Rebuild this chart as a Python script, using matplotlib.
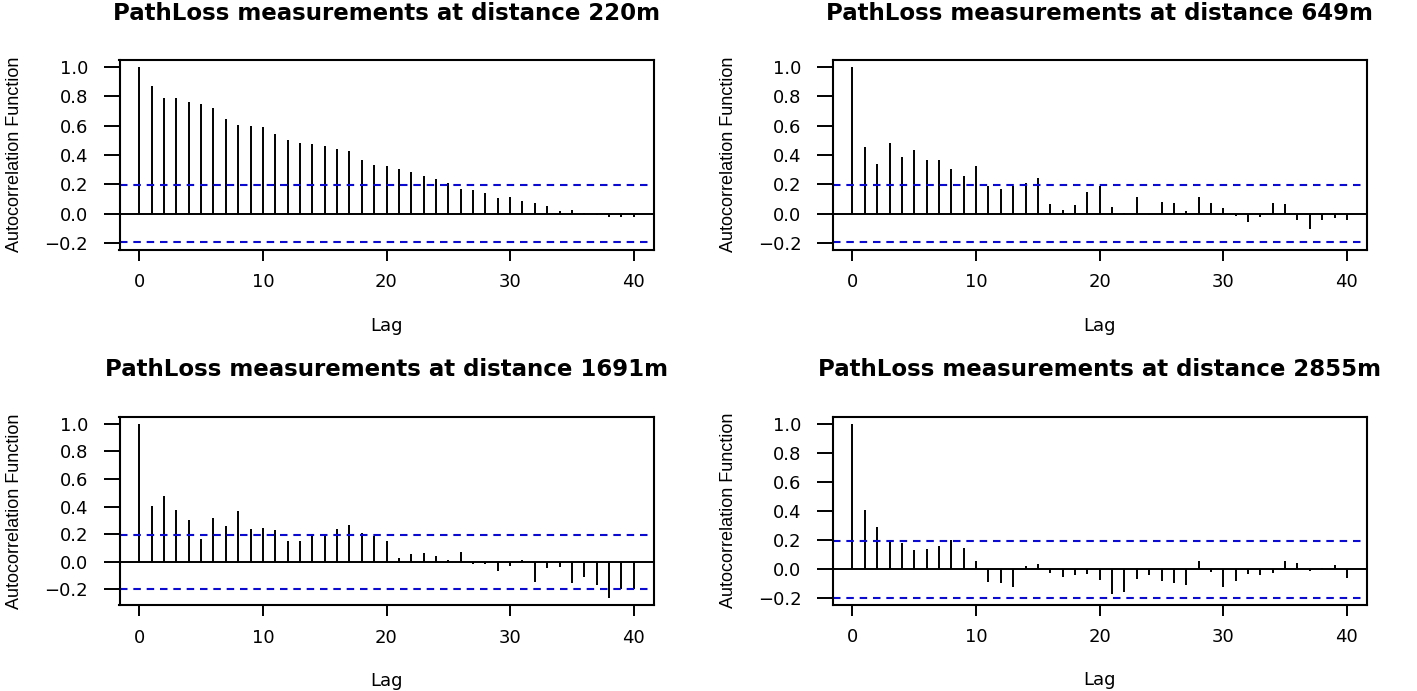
import numpy as np
import matplotlib.pyplot as plt
from matplotlib import font_manager

# autocorrelation values, lags 0..40
lags = np.arange(0, 41)

acf_220 = [1.0, 0.868, 0.788, 0.792, 0.760, 0.747, 0.719, 0.648, 0.605, 0.600,
           0.591, 0.546, 0.505, 0.479, 0.473, 0.459, 0.443, 0.427, 0.365, 0.329,
           0.322, 0.303, 0.285, 0.260, 0.240, 0.208, 0.171, 0.164, 0.144, 0.110,
           0.112, 0.087, 0.073, 0.055, 0.021, 0.027, 0.007, -0.007, -0.023, -0.023,
           -0.020]
acf_649 = [1.0, 0.454, 0.338, 0.479, 0.386, 0.432, 0.363, 0.363, 0.308, 0.260,
           0.322, 0.190, 0.169, 0.192, 0.212, 0.242, 0.068, 0.027, 0.059, 0.151,
           0.192, 0.048, 0.002, 0.116, -0.009, 0.082, 0.075, 0.016, 0.112, 0.075,
           0.041, -0.018, -0.059, -0.020, 0.075, 0.064, -0.043, -0.105, -0.043, -0.030,
           -0.043]
acf_1691 = [1.0, 0.404, 0.476, 0.378, 0.304, 0.167, 0.318, 0.256, 0.364, 0.234,
            0.242, 0.232, 0.153, 0.153, 0.191, 0.191, 0.234, 0.263, 0.211, 0.187,
            0.153, 0.030, 0.055, 0.060, 0.041, 0.014, 0.067, -0.019, -0.019, -0.065,
            -0.033, 0.012, -0.148, -0.048, -0.038, -0.153, -0.108, -0.172, -0.263, -0.196,
            -0.199]
acf_2855 = [1.0, 0.403, 0.292, 0.185, 0.178, 0.128, 0.141, 0.159, 0.198, 0.148,
            0.057, -0.091, -0.096, -0.121, 0.023, 0.032, -0.030, -0.057, -0.043, -0.032,
            -0.075, -0.169, -0.155, -0.068, -0.039, -0.080, -0.093, -0.107, 0.055, -0.018,
            -0.121, -0.080, -0.034, -0.041, -0.030, 0.055, 0.041, -0.011, 0.007, 0.025,
            -0.064]

distances = ["220m", "649m", "1691m", "2855m"]
conf_limit = 0.196  # 95% band

y_ticks = [-0.2, 0.0, 0.2, 0.4, 0.6, 0.8, 1.0]
y_tick_labels = ["\u22120.2", "0.0", "0.2", "0.4", "0.6", "0.8", "1.0"]
x_ticks = [0, 10, 20, 30, 40]

# narrow font for the rotated y label if it is there
names = {f.name for f in font_manager.fontManager.ttflist}
if "Liberation Sans Narrow" in names:
    ylab_font, ylab_size = "Liberation Sans Narrow", 15
else:
    ylab_font, ylab_size = "Liberation Sans", 13

W, H = 1417, 691
fig = plt.figure(figsize=(W / 100, H / 100), dpi=100)

# axes boxes in pixels: left, top, right, bottom
boxes = [(119.5, 60, 653.5, 249.5), (832.7, 60, 1366.7, 249.5),
         (119.5, 416.7, 653.5, 605), (832.7, 416.7, 1366.7, 604.5)]
series = [acf_220, acf_649, acf_1691, acf_2855]

for (l, t, r, b), acf, dist in zip(boxes, series, distances):
    ax = fig.add_axes([l / W, 1 - b / H, (r - l) / W, (b - t) / H])
    ax.vlines(lags, 0, acf, color='black', linewidth=1.4)
    ax.axhline(0, color='black', linewidth=1.4)
    for s in (conf_limit, -conf_limit):
        ax.axhline(s, color='#0a0ad2', linewidth=1.5, linestyle=(0, (3.6, 2.8)))

    lo = min(min(acf), -conf_limit)
    pad = 0.04 * (1 - lo)
    ax.set_ylim(lo - pad, 1 + pad)
    ax.set_xlim(-1.6, 41.6)

    ax.set_xticks(x_ticks)
    ax.set_xticklabels([str(v) for v in x_ticks], fontsize=13)
    ax.set_yticks(y_ticks)
    ax.set_yticklabels(y_tick_labels, fontsize=13)
    ax.tick_params(axis='x', length=8, width=1.4, pad=9)
    ax.tick_params(axis='y', length=11.5, width=1.4, pad=11)
    for sp in ax.spines.values():
        sp.set_linewidth(1.5)

    ax.set_title(f"PathLoss measurements at distance {dist}", fontsize=16.5,
                 fontweight='bold', pad=29)
    ax.set_xlabel("Lag", fontsize=13)
    ax.xaxis.set_label_coords(0.5, -0.355)
    ax.set_ylabel("Autocorrelation Function", fontsize=ylab_size, family=ylab_font)
    ax.yaxis.set_label_coords(-0.18, 0.5)

fig.savefig("out.png", dpi=100)
